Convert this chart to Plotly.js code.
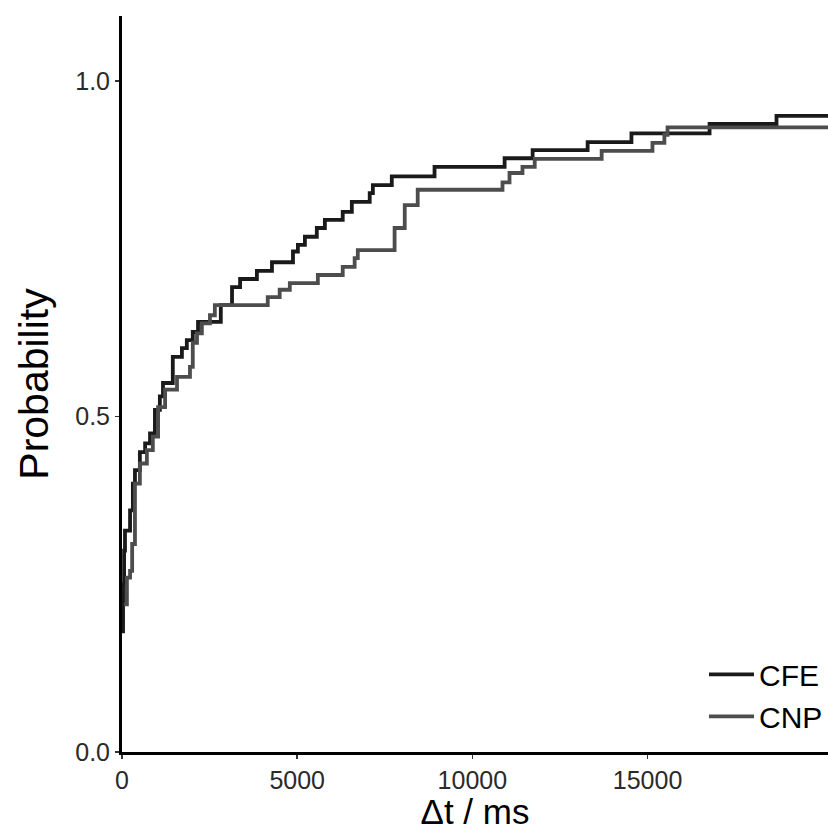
<!DOCTYPE html>
<html>
<head>
<meta charset="utf-8">
<script src="https://cdn.plot.ly/plotly-3.0.1.min.js"></script>
<style>html,body{margin:0;padding:0;background:#fff;}#chart{width:828px;height:831px;}</style>
</head>
<body>
<div id="chart"></div>
<script>
// CFE: step positions (ms) and cumulative probability
const cfeTime = [0, 30, 60, 85, 230, 310, 370, 510, 660, 800, 940, 1080, 1170, 1450, 1710, 1850, 2020, 2170, 2820, 3140, 3370, 3850, 4280, 4880, 5020, 5220, 5560, 5790, 6300, 6560, 7070, 7160, 7700, 8920, 10920, 11720, 13290, 14540, 16770, 18680, 20200];
const cfeProb = [0.18, 0.25, 0.30, 0.33, 0.36, 0.40, 0.42, 0.447, 0.46, 0.475, 0.51, 0.53, 0.55, 0.589, 0.602, 0.614, 0.626, 0.641, 0.666, 0.693, 0.705, 0.717, 0.730, 0.746, 0.756, 0.768, 0.781, 0.793, 0.805, 0.820, 0.833, 0.845, 0.858, 0.872, 0.885, 0.897, 0.909, 0.922, 0.936, 0.948, 0.948];
// CNP
const cnpTime = [60, 140, 230, 290, 370, 510, 710, 880, 1030, 1230, 1570, 1940, 2020, 2140, 2280, 2510, 2650, 4160, 4500, 4790, 5590, 6300, 6640, 6730, 7780, 8070, 8440, 10860, 11060, 11430, 11780, 13690, 15140, 15480, 15570, 20200];
const cnpProb = [0.22, 0.26, 0.27, 0.31, 0.40, 0.43, 0.45, 0.47, 0.514, 0.54, 0.559, 0.574, 0.61, 0.624, 0.639, 0.651, 0.666, 0.678, 0.689, 0.699, 0.711, 0.723, 0.736, 0.748, 0.781, 0.815, 0.838, 0.849, 0.863, 0.872, 0.884, 0.896, 0.908, 0.920, 0.931, 0.931];
const seriesNames = ['CFE', 'CNP'];
const xTicks = [0, 5000, 10000, 15000];
const yTicks = [0, 0.5, 1.0];

const traces = [
  {x: cfeTime, y: cfeProb, name: seriesNames[0], type: 'scatter', mode: 'lines', line: {shape: 'hv', color: '#1a1a1a', width: 3.8}},
  {x: cnpTime, y: cnpProb, name: seriesNames[1], type: 'scatter', mode: 'lines', line: {shape: 'hv', color: '#4d4d4d', width: 3.8}}
];

const layout = {
  width: 828, height: 831,
  margin: {l: 122, r: 0, t: 16, b: 79},
  paper_bgcolor: '#fff', plot_bgcolor: '#fff',
  font: {family: 'Liberation Sans, Arial, sans-serif', color: '#000'},
  showlegend: true,
  legend: {x: 1, xanchor: 'right', y: 0.013, yanchor: 'bottom', font: {size: 30, color: '#000'}, bgcolor: 'rgba(0,0,0,0)', itemwidth: 45, traceorder: 'normal'},
  xaxis: {
    range: [0, 20150], showgrid: false, zeroline: false,
    showline: true, linecolor: '#000', linewidth: 3,
    ticks: 'outside', ticklen: 4, tickwidth: 1.5, tickcolor: '#333',
    tickvals: xTicks, ticktext: xTicks.map(String),
    tickfont: {size: 25, color: '#2a2a2a'},
    title: {text: 'Δt / ms', font: {size: 35, color: '#000'}, standoff: 3}
  },
  yaxis: {
    range: [0, 1.097], showgrid: false, zeroline: false,
    showline: true, linecolor: '#000', linewidth: 3,
    ticks: 'outside', ticklen: 4, tickwidth: 1.5, tickcolor: '#333',
    tickvals: yTicks, ticktext: yTicks.map(v => v.toFixed(1)),
    tickfont: {size: 25, color: '#2a2a2a'},
    title: {text: 'Probability', font: {size: 41, color: '#000'}, standoff: 14}
  }
};

Plotly.newPlot('chart', traces, layout, {displayModeBar: false, staticPlot: true});
</script>
</body>
</html>
